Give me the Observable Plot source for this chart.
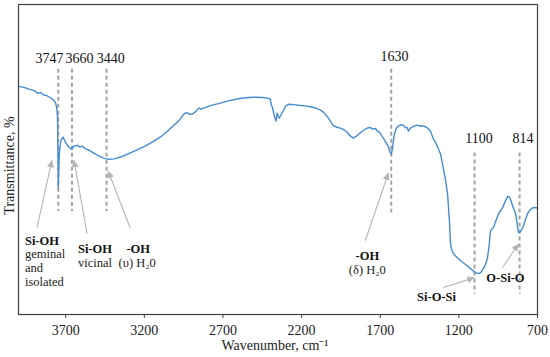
<!DOCTYPE html>
<html><head><meta charset="utf-8">
<script src="https://cdn.jsdelivr.net/npm/d3@7"></script>
<script src="https://cdn.jsdelivr.net/npm/@observablehq/plot@0.6"></script>
<style>
body{margin:0;background:#fff}
svg{font-family:"Liberation Serif","Times New Roman",serif}
</style>
</head><body><div id="chart"></div>
<script>
// ---- data ----
const wavenumber = [4000,3960,3930,3900,3880,3860,3840,3820,3800,3780,3765,3758,3752,3749,3747,3745,3742,3738,3730,3717,3705,3690,3675,3661,3650,3640,3625,3610,3595,3577,3560,3540,3513,3480,3450,3420,3390,3350,3303,3250,3195,3150,3099,3050,3017,2990,2972,2953,2940,2928,2910,2896,2880,2864,2851,2840,2832,2780,2717,2660,2609,2560,2507,2450,2410,2399,2392,2384,2378,2370,2362,2356,2350,2342,2320,2300,2285,2250,2221,2180,2145,2110,2082,2060,2036,2015,1998,1975,1954,1930,1910,1890,1871,1850,1827,1800,1780,1763,1745,1730,1719,1705,1690,1681,1665,1650,1636,1629,1622,1617,1610,1598,1585,1570,1553,1540,1530,1521,1505,1490,1475,1464,1450,1426,1405,1381,1362,1349,1330,1317,1304,1285,1272,1260,1253,1245,1234,1210,1190,1160,1126,1094,1075,1060,1044,1030,1018,1008,999,990,980,965,948,923,905,890,880,868,855,840,830,821,808,800,789,775,764,750,732,715,700];
const transmittance = [73.6,73.2,72.6,72.2,71.4,71.6,70.8,70.6,70.0,69.3,68.4,67.0,64.0,52,40.8,45,50,53.5,56.2,57.2,56.0,54.6,53.8,53.2,54.4,54.3,54.6,54.0,54.3,53.6,53.2,52.6,51.8,50.9,50.3,50.1,50.2,50.8,51.8,53.0,54.3,55.6,57.2,59.3,60.8,62.0,63.0,64.4,65.0,65.0,64.6,64.6,65.2,66.0,66.6,66.2,66.4,67.4,68.2,69.0,69.5,69.9,70.1,70.0,69.7,69.4,67.5,66.6,65.0,63.5,62.4,65.0,64.2,63.3,65.4,67.3,67.8,67.7,67.5,67.3,67.0,66.6,66.0,65.2,63.8,62.2,60.9,60.4,60.1,59.6,58.8,57.6,56.9,57.6,58.6,59.6,60.2,60.3,59.8,60.0,59.2,58.8,57.6,57.0,55.6,54.4,52.2,51.8,53.5,55.8,58.2,60.1,60.8,61.2,61.1,60.2,60.4,59.2,60.3,60.6,61.0,61.1,60.8,60.8,60.4,59.2,56.6,55.6,53.4,51.8,48.6,43.5,38.9,30.2,22.8,20.8,19.6,18.3,17.4,16.2,14.8,13.5,13.2,13.6,14.8,16.2,18.3,22.0,27.0,27.6,28.0,30.2,32.5,34.4,36.5,38.1,38.0,36.7,34.5,32.8,29.5,26.4,26.7,27.5,28.6,30.8,32.5,33.6,34.4,34.5,34.4];

const peakWavenumbers = [3747, 3660, 3440, 1630, 1100, 814];
const peakLabels = ["3747", "3660", "3440", "1630", "1100", "814"];
const xTicks = [3700, 3200, 2700, 2200, 1700, 1200, 700];
const bandTitles = ["Si-OH", "Si-OH", "-OH", "-OH", "Si-O-Si", "O-Si-O"];
const bandNotes = ["geminal\nand\nisolated", "vicinal", "(\u03c5) H\u20820", "(\u03b4) H\u20820", "", ""];
const xLabel = "Wavenumber, cm\u207b\u00b9";
const yLabel = "Transmittance, %";

// ---- layout (annotation placement, in data units) ----
const ruleTop = [79.1, 79.1, 79.1, 79.1, 52.1, 52.1];
const ruleBottom = [33.2, 33.2, 33.2, 32.8, 6.6, 6.6];
const peakLabelX = [3803, 3612, 3414, 1610, 1072, 792];
const peakLabelY = [82.6, 82.6, 82.6, 83.3, 56.9, 56.9];
const arrowFrom = [[3882, 28.0], [3564, 26.0], [3290, 28.0], [1795, 23.8], [1298, 8.7], [923, 15.1]];
const arrowTo = [[3787, 49.8], [3647, 49.8], [3430, 46.3], [1648, 45.7], [1101, 11.9], [821, 22.8]];
const titlePos = [[3959, 23.8], [3622, 21.2], [3239, 21.2], [1782, 19.0], [1342, 5.5], [904, 11.9]];
const notePos = [[3959, 15.1], [3622, 16.7], [3245, 16.7], [1782, 14.5], null, null];
const titleAnchor = ["start", "start", "middle", "middle", "middle", "middle"];

// ---- build tables ----
const spectrum = wavenumber.map((w, i) => ({w, t: transmittance[i]}));
const peaks = peakWavenumbers.map((w, i) => ({w, label: peakLabels[i], lx: peakLabelX[i], ly: peakLabelY[i], y1: ruleTop[i], y2: ruleBottom[i]}));
const arrows = arrowFrom.map((f, i) => ({x1: f[0], y1: f[1], x2: arrowTo[i][0], y2: arrowTo[i][1]}));
const bands = bandTitles.map((t, i) => ({title: t, note: bandNotes[i], x: titlePos[i][0], y: titlePos[i][1],
  nx: notePos[i] ? notePos[i][0] : null, ny: notePos[i] ? notePos[i][1] : null, anchor: titleAnchor[i]}));
const bandsStart = bands.filter(d => d.anchor === "start");
const bandsMiddle = bands.filter(d => d.anchor === "middle");

const arrowColor = "#b5b5b5";
const chart = Plot.plot({
  width: 550, height: 357,
  marginLeft: 18, marginRight: 13, marginTop: 4, marginBottom: 43,
  style: {fontFamily: "Liberation Serif, serif", fontSize: "14px", background: "white", color: "#222"},
  x: {domain: [4000, 700], label: null},
  y: {domain: [0, 100], axis: null},
  marks: [
    Plot.ruleX(peaks, {x: "w", y1: "y1", y2: "y2", stroke: "#a3a3a3", strokeWidth: 2, strokeDasharray: "4,3"}),
    Plot.line(spectrum, {x: "w", y: "t", stroke: "#468cd2", strokeWidth: 1.4}),
    Plot.link(arrows, {x1: "x1", y1: "y1", x2: "x2", y2: "y2", stroke: arrowColor, strokeWidth: 1.1}),
    Plot.text(peaks, {x: "lx", y: "ly", text: "label", fontSize: 14, fill: "#111"}),
    Plot.text(bandsStart, {x: "x", y: "y", text: "title", textAnchor: "start", fontWeight: "bold", fontSize: 12.5, fill: "#111"}),
    Plot.text(bandsMiddle, {x: "x", y: "y", text: "title", textAnchor: "middle", fontWeight: "bold", fontSize: 12.5, fill: "#111"}),
    Plot.text(bandsStart, {x: "nx", y: "ny", text: "note", textAnchor: "start", fontSize: 12.5, lineHeight: 1.12, fill: "#222"}),
    Plot.text(bandsMiddle.filter(d => d.note), {x: "nx", y: "ny", text: "note", textAnchor: "middle", fontSize: 12.5, fill: "#222"}),
    Plot.axisX({ticks: xTicks, tickFormat: d => String(d), tickSize: 4, tickPadding: 7, fontSize: 14, stroke: "#404040", fill: "#222", label: null}),
    Plot.frame({stroke: "#404040", strokeWidth: 1.2}),
    Plot.text([xLabel], {frameAnchor: "bottom", text: d => d, textAnchor: "middle", dx: -3, dy: 35, fontSize: 14, fill: "#222"}),
    Plot.text([yLabel], {frameAnchor: "left", text: d => d, textAnchor: "middle", rotate: -90, dx: -9, dy: 6, fontSize: 14, fill: "#222"})
  ]
});
document.getElementById("chart").appendChild(chart);

// filled arrowheads on the annotation links
const svg = d3.select(chart);
svg.append("defs").append("marker")
  .attr("id", "ahead").attr("viewBox", "0 0 10 10").attr("refX", 10).attr("refY", 5)
  .attr("markerWidth", 8).attr("markerHeight", 7).attr("markerUnits", "userSpaceOnUse").attr("orient", "auto")
  .append("path").attr("d", "M0,0L10,5L0,10Z").attr("fill", arrowColor);
svg.selectAll('g[aria-label="link"] path').attr("marker-end", "url(#ahead)");
</script>
</body></html>
